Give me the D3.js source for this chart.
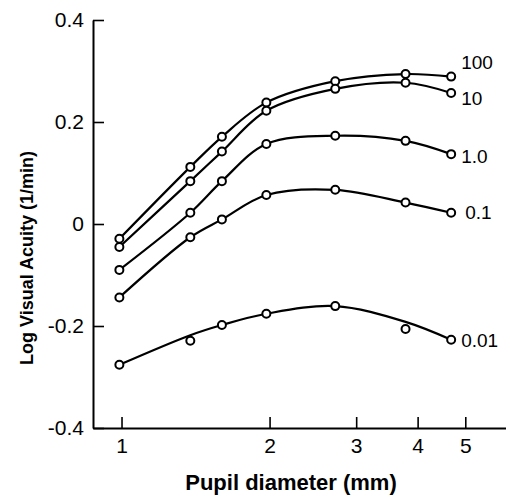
<!DOCTYPE html>
<html>
<head>
<meta charset="utf-8">
<script src="https://cdn.jsdelivr.net/npm/d3@7"></script>
<style>
    body { margin: 0; background: #fff; }
    svg { display: block; font-family: "Liberation Sans", Arial, sans-serif; }
</style>
</head>
<body>
<script>
// pupil diameters (mm) where acuity was measured
const diameters = [0.99, 1.38, 1.6, 1.97, 2.72, 3.78, 4.68];
// luminance levels, one curve each
const luminances = ["100", "10", "1.0", "0.1", "0.01"];

const acuity100 = [-0.029, 0.112, 0.171, 0.238, 0.280, 0.294, 0.289];
const acuity10 = [-0.045, 0.084, 0.142, 0.222, 0.265, 0.277, 0.257];
const acuity1 = [-0.090, 0.022, 0.084, 0.157, 0.173, 0.163, 0.137];
const acuity01 = [-0.144, -0.026, 0.009, 0.057, 0.067, 0.042, 0.022];
const acuity001 = [-0.276, -0.229, -0.198, -0.176, -0.161, -0.206, -0.227];
// the drawn curve for 0.01 is a fit and misses some points
const fit001 = [-0.276, -0.218, -0.198, -0.176, -0.161, -0.192, -0.227];

const xTicks = [1, 2, 3, 4, 5];
const yTicks = [-0.4, -0.2, 0, 0.2, 0.4];
const yTickLabels = ["-0.4", "-0.2", "0", "0.2", "0.4"];

const width = 506, height = 496;

const series = [
    {name: luminances[0], points: acuity100, curve: acuity100, dx: 10, dy: -14},
    {name: luminances[1], points: acuity10, curve: acuity10, dx: 10, dy: 5},
    {name: luminances[2], points: acuity1, curve: acuity1, dx: 10, dy: 2},
    {name: luminances[3], points: acuity01, curve: acuity01, dx: 14, dy: 0},
    {name: luminances[4], points: acuity001, curve: fit001, dx: 10, dy: 1}
];

const svg = d3.select("body").append("svg")
    .attr("width", width)
    .attr("height", height);

const x = d3.scaleLog().domain([0.875, 6.05]).range([93, 506]);
const y = d3.scaleLinear().domain([-0.4, 0.4]).range([428, 20]);

// axes
const xAxis = svg.append("g")
    .attr("transform", "translate(0," + y(-0.4) + ")")
    .call(d3.axisBottom(x).tickValues(xTicks).tickFormat(d3.format("d"))
        .tickSizeInner(-11).tickSizeOuter(0).tickPadding(10));
const yAxis = svg.append("g")
    .attr("transform", "translate(" + x.range()[0] + ",0)")
    .call(d3.axisLeft(y).tickValues(yTicks).tickFormat((d, i) => yTickLabels[i])
        .tickSizeInner(-11).tickSizeOuter(0).tickPadding(9));

[xAxis, yAxis].forEach(g => {
    g.select(".domain").attr("stroke", "#000").attr("stroke-width", 2);
    g.selectAll(".tick line").attr("stroke", "#000").attr("stroke-width", 1.6);
    g.selectAll(".tick text").attr("fill", "#000")
        .style("font-size", "21px")
        .style("font-family", "'Liberation Sans', Arial, sans-serif");
});

// axis titles
svg.append("text")
    .attr("x", 291)
    .attr("y", 490)
    .attr("text-anchor", "middle")
    .style("font-size", "22px")
    .style("font-weight", "bold")
    .text("Pupil diameter (mm)");

svg.append("text")
    .attr("transform", "translate(33,258) rotate(-90)")
    .attr("text-anchor", "middle")
    .style("font-size", "18px")
    .style("font-weight", "bold")
    .text("Log Visual Acuity (1/min)");

// curves
const line = d3.line()
    .x((d, i) => x(diameters[i]))
    .y(d => y(d))
    .curve(d3.curveCatmullRom.alpha(0.5));

const groups = svg.selectAll("g.series")
    .data(series)
    .enter().append("g")
    .attr("class", "series");

groups.append("path")
    .attr("d", d => line(d.curve))
    .attr("fill", "none")
    .attr("stroke", "#000")
    .attr("stroke-width", 2.2);

groups.selectAll("circle")
    .data(d => d.points)
    .enter().append("circle")
    .attr("cx", (d, i) => x(diameters[i]))
    .attr("cy", d => y(d))
    .attr("r", 4)
    .attr("fill", "#fff")
    .attr("stroke", "#000")
    .attr("stroke-width", 2);

groups.append("text")
    .attr("x", d => x(diameters[diameters.length - 1]) + d.dx)
    .attr("y", d => y(d.points[d.points.length - 1]) + d.dy)
    .attr("dy", "0.35em")
    .style("font-size", "19px")
    .text(d => d.name);
</script>
</body>
</html>
